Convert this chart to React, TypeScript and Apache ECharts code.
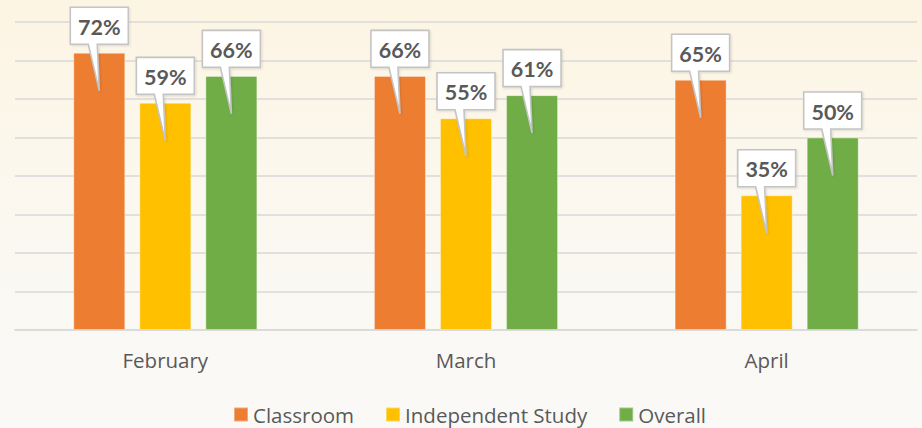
import React, { useEffect, useRef } from "react";
import * as echarts from "echarts";

const categories = ["February", "March", "April"];
const seriesNames = ["Classroom", "Independent Study", "Overall"];
const classroom = [72, 66, 65];
const independentStudy = [59, 55, 35];
const overall = [66, 61, 50];
const colors = ["#ED7D31", "#FFC000", "#70AD47"];

const BAR_W = 52;
const GAP_RATIO = 0.27;

export default function App() {
  const ref = useRef<HTMLDivElement>(null);
  useEffect(() => {
    if (!ref.current) return;
    const chart = echarts.init(ref.current, null, { renderer: "svg" });
    const all = [classroom, independentStudy, overall];
    const calloutData: number[][] = [];
    all.forEach((arr, s) => arr.forEach((v, c) => calloutData.push([c, s, v])));

    const renderItem = (params: any, api: any) => {
      const c = api.value(0);
      const s = api.value(1);
      const v = api.value(2);
      const p = api.coord([c, v]);
      const cx = p[0] + (s - 1) * BAR_W * (1 + GAP_RATIO);
      const top = p[1];
      const bw = 58, bh = 37, gap = 8.5;
      const L = cx - bw / 2, R = cx + bw / 2;
      const B = top - gap, T = B - bh;
      const pts = [
        [L, T], [R, T], [R, B], [cx - 2, B], [cx, top + 38], [cx - 11, B], [L, B],
      ];
      return {
        type: "group",
        children: [
          {
            type: "polygon",
            shape: { points: pts },
            style: {
              fill: "#ffffff",
              stroke: "#C4C4C4",
              lineWidth: 1.6,
              shadowBlur: 2,
              shadowColor: "rgba(0,0,0,0.12)",
              shadowOffsetX: 1,
              shadowOffsetY: 1,
            },
          },
          {
            type: "text",
            style: {
              text: v + "%",
              x: cx,
              y: (T + B) / 2 + 1,
              align: "center",
              verticalAlign: "middle",
              fontSize: 21.5,
              fontWeight: "bold",
              fontFamily: "Lato",
              fill: "#595959",
            },
          },
        ],
      };
    };

    chart.setOption({
      animation: false,
      grid: { left: 15, right: 5, top: 22, bottom: 98 },
      legend: {
        top: 404,
        left: 233,
        padding: 0,
        data: seriesNames,
        icon: "rect",
        itemWidth: 14,
        itemHeight: 14,
        itemGap: 31,
        textStyle: { fontSize: 20.5, color: "#595959", fontFamily: "Open Sans" },
      },
      xAxis: {
        type: "category",
        data: categories,
        axisLine: { lineStyle: { color: "#D9D9D9", width: 1.5 } },
        axisTick: { show: false },
        axisLabel: { fontSize: 20.5, color: "#595959", fontFamily: "Open Sans", margin: 19 },
      },
      yAxis: {
        type: "value",
        min: 0,
        max: 80,
        interval: 10,
        axisLabel: { show: false },
        axisLine: { show: false },
        axisTick: { show: false },
        splitLine: { lineStyle: { color: "#D9D9D9", width: 1.5 } },
      },
      series: [
        ...all.map((arr, i) => ({
          name: seriesNames[i],
          type: "bar",
          data: arr,
          barWidth: BAR_W,
          barGap: GAP_RATIO * 100 + "%",
          itemStyle: { color: colors[i], borderColor: "rgba(255,255,255,0.35)", borderWidth: 1 },
        })),
        {
          type: "custom",
          renderItem,
          data: calloutData,
          encode: { x: 0, y: 2 },
          z: 10,
          clip: false,
          silent: true,
        },
      ],
    });
    return () => chart.dispose();
  }, []);
  return (
    <div
      ref={ref}
      style={{
        position: "absolute",
        left: 0,
        top: 0,
        width: 922,
        height: 428,
        background: "linear-gradient(to bottom, #FDF5E3 0%, #FBF8F0 50%, #FAF9F7 100%)",
      }}
    />
  );
}
